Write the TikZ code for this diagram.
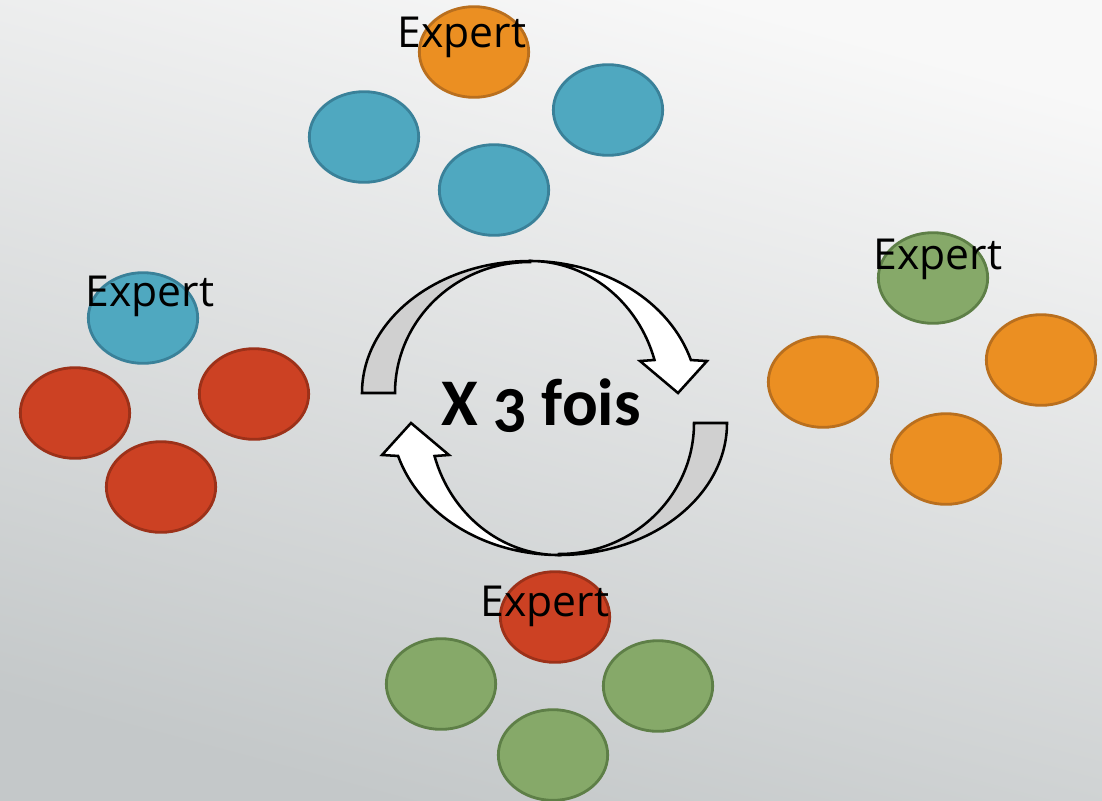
\documentclass[tikz,border=0pt]{standalone}
\usepackage{fontspec}
\setmainfont{Open Sans}
\newfontfamily\boldfont[Numbers=OldStyle]{Carlito}
\usetikzlibrary{shapes.geometric}
\definecolor{bgtop}{RGB}{248,248,248}
\definecolor{bgbot}{RGB}{196,200,201}
\definecolor{tblue}{HTML}{4FA8C0}
\definecolor{tbluedk}{HTML}{3A8199}
\definecolor{torange}{HTML}{EB8F22}
\definecolor{torangedk}{HTML}{B96F1E}
\definecolor{tred}{HTML}{CC4123}
\definecolor{treddk}{HTML}{9C3119}
\definecolor{tgreen}{HTML}{86A969}
\definecolor{tgreendk}{HTML}{5E7F47}
\definecolor{arrowgray}{RGB}{208,208,208}
\begin{document}
\begin{tikzpicture}[x=0.75pt,y=-0.75pt,
  member/.style={ellipse, line width=2.1pt, minimum width=82pt, minimum height=68pt, inner sep=0pt},
  bl/.style={member, fill=tblue, draw=tbluedk},
  orr/.style={member, fill=torange, draw=torangedk},
  rd/.style={member, fill=tred, draw=treddk},
  gr/.style={member, fill=tgreen, draw=tgreendk},
  lbl/.style={font=\fontsize{32}{38}\selectfont, inner sep=0pt, anchor=base},
  ribbon/.style={draw=black, line width=1.9pt},
  ]
\shade[top color=bgtop, bottom color=bgbot, shading angle=-15] (0,0) rectangle (1102,800);
\useasboundingbox (0,0) rectangle (1102,800);

% top group
\node[orr] (t0) at (474,52) {};
\node[bl] (t1) at (364,137) {};
\node[bl] (t2) at (608,110) {};
\node[bl] (t3) at (494,190) {};
\node[lbl] (tl) at (462,47) {Expert};

% left group
\node[bl] (l0) at (143,318) {};
\node[rd] (l1) at (75,413) {};
\node[rd] (l2) at (254,394) {};
\node[rd] (l3) at (161,487) {};
\node[lbl] (ll) at (150,306) {Expert};

% right group
\node[gr] (r0) at (933,278) {};
\node[orr] (r1) at (823,382) {};
\node[orr] (r2) at (1041,360) {};
\node[orr] (r3) at (946,459) {};
\node[lbl] (rl) at (938,269) {Expert};

% bottom group
\node[rd] (b0) at (555,617) {};
\node[gr] (b1) at (441,684) {};
\node[gr] (b2) at (658,686) {};
\node[gr] (b3) at (553,755) {};
\node[lbl] (bl) at (545,616) {Expert};

% circular arrows
\foreach \r in {0,180}{
\begin{scope}[rotate around={\r:(544.5,408)}]
  \path[ribbon, fill=arrowgray] (362,393) arc[start angle=180, end angle=270, x radius=168, y radius=132]
     -- (530,262) arc[start angle=270, end angle=180, x radius=135, y radius=131] -- cycle;
  \path[ribbon, fill=white] (530,261) arc[start angle=270, end angle=343.3, x radius=168, y radius=139]
     -- (707,361) -- (678,393) -- (640,361) -- (654.5,360)
     arc[start angle=343.3, end angle=270, x radius=130, y radius=139] -- cycle;
\end{scope}
}

\node[font=\boldfont\bfseries\fontsize{50}{56}\selectfont, inner sep=0pt, anchor=base] (x3) at (541,425) {X 3 fois};
\end{tikzpicture}
\end{document}
